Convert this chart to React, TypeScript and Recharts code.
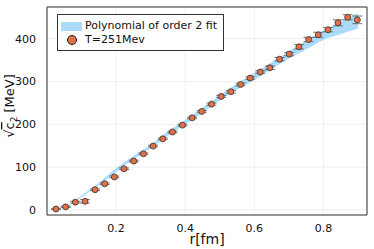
import {
  Area,
  CartesianGrid,
  ComposedChart,
  ErrorBar,
  ReferenceArea,
  Scatter,
  XAxis,
  YAxis,
} from 'recharts';

// lattice points r [fm] with sqrt(c2) [MeV] and errors
const rPoints = [
  0.026, 0.054, 0.082, 0.11, 0.139, 0.167, 0.195, 0.223, 0.251, 0.279, 0.307,
  0.335, 0.363, 0.392, 0.42, 0.448, 0.476, 0.504, 0.532, 0.56, 0.588, 0.617,
  0.645, 0.673, 0.701, 0.729, 0.757, 0.785, 0.813, 0.842, 0.87, 0.898,
];
const c2Values = [
  2, 7, 18, 20, 47, 61, 77, 96, 114, 131, 149, 166, 182, 198, 215, 230, 247, 265,
  276, 293, 308, 322, 332, 352, 364, 381, 398, 409, 421, 437, 450, 444,
];
const c2Errors = [
  1.5, 1.5, 2, 4, 2, 2, 2, 2, 2, 2, 2, 2, 2, 2, 2, 2, 2.5, 2.5, 3, 3, 3, 3,
  4, 4, 4, 5, 5, 6, 5, 7, 6, 9,
];

// fit band (order 2 polynomial), lower / upper edge
const rBand = [
  0.055, 0.1, 0.15, 0.2, 0.25, 0.3, 0.35, 0.4, 0.45, 0.5, 0.55, 0.6, 0.65, 0.7,
  0.75, 0.8, 0.85, 0.9,
];
const bandLow = [4, 30, 57, 89, 118, 144, 173, 200, 227, 256, 281, 304, 329, 353, 375, 397, 411, 424];
const bandHigh = [6, 34, 63, 97, 126, 152, 183, 210, 239, 268, 295, 320, 345, 371, 395, 419, 439, 460];

const xTicks = [0.2, 0.4, 0.6, 0.8];
const yTicks = [0, 100, 200, 300, 400];

const FONT = '"DejaVu Sans", sans-serif';
const BAND = '#aadcfa';
const ORANGE = '#e26f46';

const points = rPoints.map((r, i) => ({ r, v: c2Values[i], err: c2Errors[i] }));
const band = rBand.map((r, i) => ({ r, range: [bandLow[i], bandHigh[i]] }));

function Dot(props: any) {
  const { cx, cy } = props;
  if (cx == null || cy == null) return null;
  return <circle cx={cx} cy={cy} r={3} fill={ORANGE} stroke="#333" strokeWidth={0.8} />;
}

function LegendBox() {
  return (
    <div
      style={{
        position: 'absolute',
        left: 57,
        top: 14,
        width: 167,
        height: 37,
        border: '1px solid #333',
        background: '#fff',
        fontFamily: FONT,
        fontSize: 11,
        color: '#111',
        boxSizing: 'border-box',
      }}
    >
      <div style={{ position: 'absolute', left: 3, top: 7, width: 21, height: 9, background: BAND }} />
      <div style={{ position: 'absolute', left: 27, top: 4, lineHeight: '14px', whiteSpace: 'nowrap' }}>
        Polynomial of order 2 fit
      </div>
      <svg style={{ position: 'absolute', left: 8, top: 19 }} width={12} height={12}>
        <circle cx={6} cy={6} r={4.5} fill={ORANGE} stroke="#222" strokeWidth={1} />
      </svg>
      <div style={{ position: 'absolute', left: 27, top: 18, lineHeight: '14px' }}>T=251Mev</div>
    </div>
  );
}

function YLabel() {
  return (
    <text
      transform="translate(14,106) rotate(-90)"
      textAnchor="middle"
      fontFamily={FONT}
      fontSize={13}
      fill="#111"
    >
      <tspan>√</tspan>
      <tspan textDecoration="overline">c</tspan>
      <tspan fontSize={9} dy={3}>2</tspan>
      <tspan dy={-3}> [MeV]</tspan>
    </text>
  );
}

export default function App() {
  return (
    <div style={{ position: 'absolute', left: 0, top: 0, width: 374, height: 249, background: '#fff' }}>
      <ComposedChart width={374} height={249} margin={{ top: 7, right: 7, bottom: 0, left: 0 }}>
        <CartesianGrid stroke="#ebebeb" strokeWidth={0.8} />
        <XAxis
          type="number"
          dataKey="r"
          domain={[0, 0.926]}
          ticks={xTicks}
          allowDataOverflow
          height={34}
          tickLine={false}
          axisLine={false}
          tick={{ fontFamily: FONT, fontSize: 11, fill: '#111' }}
          tickMargin={3}
          label={{ value: 'r[fm]', position: 'insideBottom', offset: 5, fontFamily: FONT, fontSize: 14, fill: '#111' }}
        />
        <YAxis
          type="number"
          domain={[-12, 474]}
          ticks={yTicks}
          allowDataOverflow
          width={47}
          tickLine={false}
          axisLine={false}
          tick={{ fontFamily: FONT, fontSize: 11, fill: '#111' }}
          tickMargin={5}
          label={{ content: () => <YLabel /> }}
        />
        <Area
          data={band}
          dataKey="range"
          type="monotone"
          stroke="none"
          fill={BAND}
          fillOpacity={1}
          isAnimationActive={false}
          activeDot={false}
          legendType="none"
        />
        <Scatter data={points} dataKey="v" shape={<Dot />} isAnimationActive={false}>
          <ErrorBar dataKey="err" direction="y" width={5} stroke="#555" strokeWidth={0.8} isAnimationActive={false} />
        </Scatter>
        <ReferenceArea x1={0} x2={0.926} y1={-12} y2={474} fill="none" stroke="#333" strokeWidth={1} ifOverflow="visible" />
      </ComposedChart>
      <LegendBox />
    </div>
  );
}
